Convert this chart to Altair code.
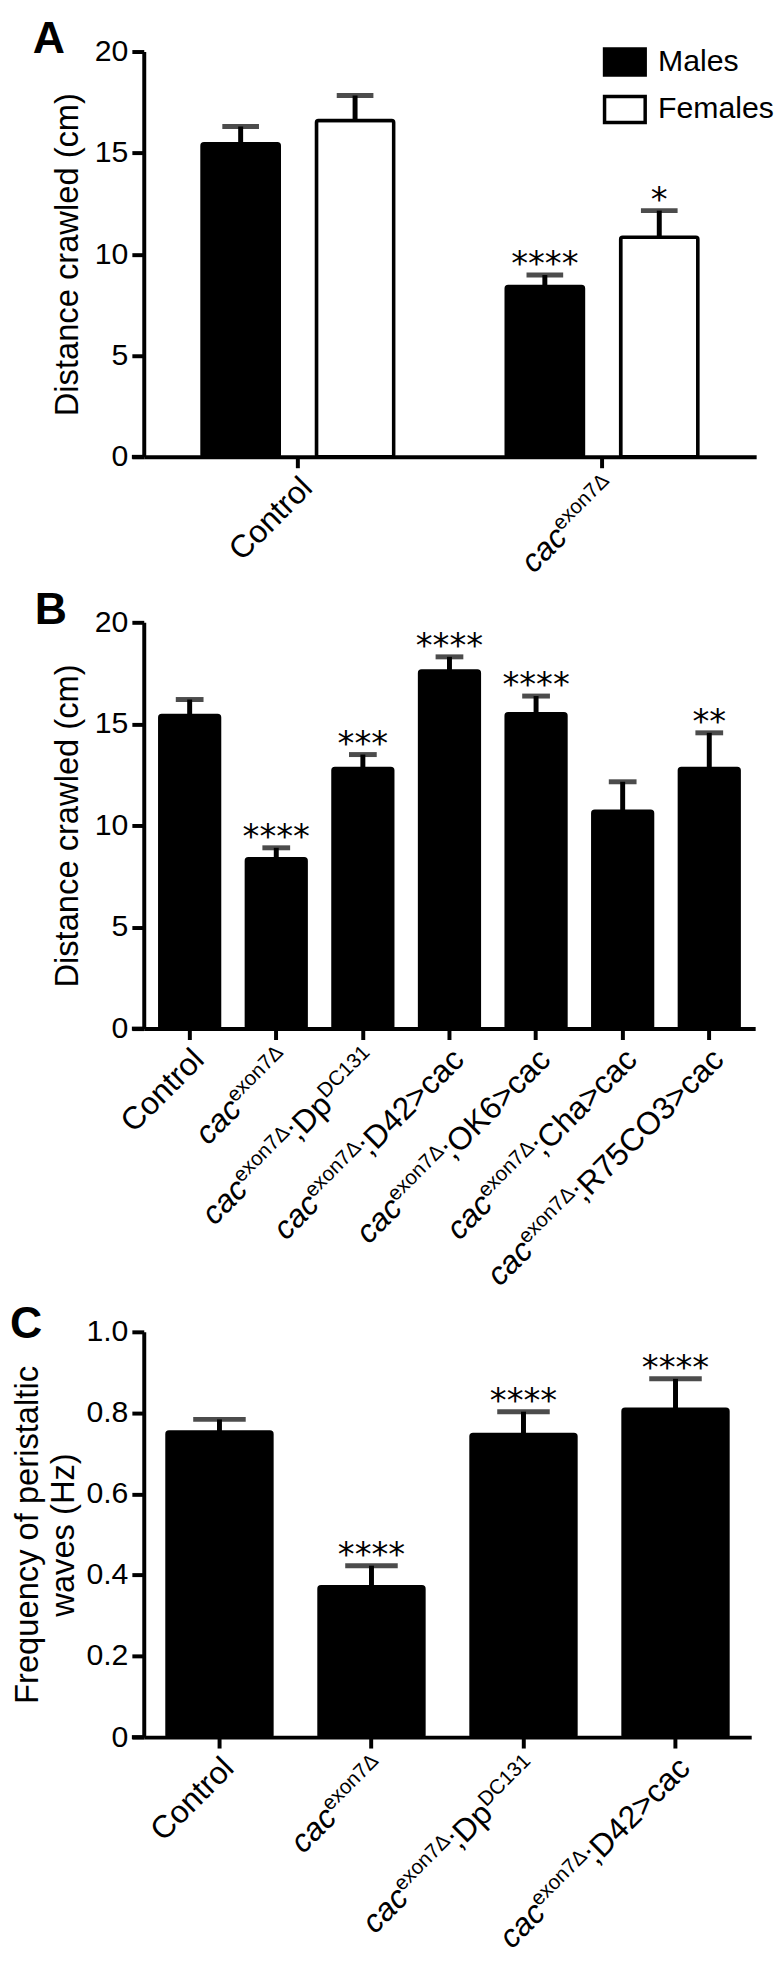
import altair as alt
import pandas as pd

FONT = "Liberation Sans, Arial, Helvetica, sans-serif"
STAR_FONT = "DejaVu Sans"

# ---------------- Panel A ----------------
a_groups = ["Control", "cac"]
a_sexes = ["Males", "Females"]
a_male_mean = [15.45, 8.40]
a_male_sem = [0.85, 0.57]
a_female_mean = [16.6, 10.84]
a_female_sem = [1.23, 1.31]
a_male_stars = ["", "****"]
a_female_stars = ["", "*"]
a_labels = [[("Control", "n")], [("cac", "i"), ("exon7Δ", "s")]]

# ---------------- Panel B ----------------
b_groups = ["Control", "cac", "Dp", "D42", "OK6", "Cha", "R75"]
b_mean = [15.41, 8.36, 12.81, 17.60, 15.50, 10.70, 12.81]
b_sem = [0.79, 0.54, 0.68, 0.70, 0.87, 1.45, 1.75]
b_stars = ["", "****", "***", "****", "****", "", "**"]
b_labels = [
    [("Control", "n")],
    [("cac", "i"), ("exon7Δ", "s")],
    [("cac", "i"), ("exon7Δ", "s"), (";Dp", "n"), ("DC131", "s")],
    [("cac", "i"), ("exon7Δ", "s"), (";D42>cac", "n")],
    [("cac", "i"), ("exon7Δ", "s"), (";OK6>cac", "n")],
    [("cac", "i"), ("exon7Δ", "s"), (";Cha>cac", "n")],
    [("cac", "i"), ("exon7Δ", "s"), (";R75CO3>cac", "n")],
]

# ---------------- Panel C ----------------
c_groups = ["Control", "cac", "Dp", "D42"]
c_mean = [0.753, 0.371, 0.747, 0.809]
c_sem = [0.031, 0.052, 0.056, 0.075]
c_stars = ["", "****", "****", "****"]
c_labels = [
    [("Control", "n")],
    [("cac", "i"), ("exon7Δ", "s")],
    [("cac", "i"), ("exon7Δ", "s"), (";Dp", "n"), ("DC131", "s")],
    [("cac", "i"), ("exon7Δ", "s"), (";D42>cac", "n")],
]

# Arial / Liberation Sans advance widths (em)
W = {'a': .556, 'c': .5, 'e': .556, 'x': .5, 'o': .556, 'n': .556, '7': .556,
     'Δ': .668, ';': .278, 'D': .722, 'p': .556, 'C': .722, '1': .556, '3': .556,
     '4': .556, '2': .556, '>': .584, 'O': .778, 'K': .667, '6': .556, 'h': .556,
     'R': .722, '5': .556, 't': .278, 'r': .333, 'l': .222}

LABEL_F = 32
SUP = 0.65


def label_df(cats, labels):
    rows = []
    for cat, segs in zip(cats, labels):
        acc = 0.0
        for text, kind in reversed(segs):
            size = LABEL_F * SUP if kind == "s" else LABEL_F
            dy = 0.72 * LABEL_F - (0.36 * LABEL_F if kind == "s" else 0)
            rows.append(dict(cat=cat, seg=text, kind=kind, fs=size, ldx=-acc, ldy=dy))
            acc += sum(W.get(ch, 0.556) for ch in text) * size
    return pd.DataFrame(rows)


def label_layers(cats, labels, x_enc, height):
    ldf = label_df(cats, labels)
    base = alt.Chart(ldf).encode(
        x=x_enc,
        y=alt.value(height + 17),
        text="seg:N",
        size=alt.Size("fs:Q", scale=None),
    )
    common = dict(align="right", baseline="alphabetic", angle=315, font=FONT,
                  color="black", dx=alt.ExprRef(expr="datum.ldx"),
                  dy=alt.ExprRef(expr="datum.ldy"))
    it = base.transform_filter("datum.kind == 'i'").mark_text(fontStyle="italic", **common)
    nm = base.transform_filter("datum.kind != 'i'").mark_text(fontStyle="normal", **common)
    return [it, nm]


def letter_layer(letter, lx, ly):
    return alt.Chart(pd.DataFrame({"t": [letter]})).mark_text(
        font=FONT, fontWeight="bold", fontSize=45, align="left",
        baseline="alphabetic", color="black"
    ).encode(text="t:N", x=alt.value(lx), y=alt.value(ly))


def axis_stub(height):
    # short extension of the x-axis line to the left of the y-axis (Prism style)
    return alt.Chart(pd.DataFrame({"k": [0]})).mark_rule(
        color="black", strokeWidth=4
    ).encode(x=alt.value(-12), x2=alt.value(0), y=alt.value(height))


def y_axis(values, title, title_pad, line_h=None, label_expr=None):
    kw = dict(values=values, title=title, titlePadding=title_pad, tickSize=12,
              labelPadding=4)
    if line_h:
        kw["titleLineHeight"] = line_h
    if label_expr:
        kw["labelExpr"] = label_expr
    return alt.Axis(**kw)


x_axis = alt.Axis(title=None, labels=False, tickSize=11)

# ---------------- build A ----------------
A_W, A_H = 618, 409
a_rows = []
for i, g in enumerate(a_groups):
    a_rows.append(dict(cat=g, sex="Males", mean=a_male_mean[i],
                       top=a_male_mean[i] + a_male_sem[i], star=a_male_stars[i]))
    a_rows.append(dict(cat=g, sex="Females", mean=a_female_mean[i],
                       top=a_female_mean[i] + a_female_sem[i], star=a_female_stars[i]))
a_df = pd.DataFrame(a_rows)

a_x = alt.X("cat:N", sort=a_groups, axis=x_axis,
            scale=alt.Scale(paddingInner=0.3, paddingOuter=0.1566))
a_xo = alt.XOffset("sex:N", sort=a_sexes,
                   scale=alt.Scale(paddingInner=0.325, paddingOuter=0.093))
a_yscale = alt.Scale(domain=[0, 20], nice=False)
a_yaxis = y_axis([0, 5, 10, 15, 20], "Distance crawled (cm)", 10)

a_base = alt.Chart(a_df).encode(x=a_x, xOffset=a_xo)
a_bars = a_base.mark_bar(stroke="black", strokeWidth=3.5, cornerRadius=2).encode(
    y=alt.Y("mean:Q", scale=a_yscale, axis=a_yaxis),
    fill=alt.Fill("sex:N", scale=alt.Scale(domain=a_sexes, range=["black", "white"]),
                  legend=alt.Legend(title=None, orient="none", legendX=463, legendY=-12,
                                    symbolType="M-1,-0.64H1V0.64H-1Z", symbolSize=1681,
                                    symbolStrokeColor="black", symbolStrokeWidth=3.5,
                                    labelFont=FONT, labelFontSize=30.5, labelColor="black",
                                    labelOffset=11, rowPadding=5, padding=0)),
)
a_err = a_base.mark_rule(color="black", strokeWidth=5).encode(
    y=alt.Y("mean:Q", scale=a_yscale, axis=a_yaxis), y2="top:Q")
a_cap = a_base.mark_tick(color="black", thickness=5, size=37).encode(
    y=alt.Y("top:Q", scale=a_yscale, axis=a_yaxis))
a_star = a_base.mark_text(font=STAR_FONT, fontSize=34, baseline="alphabetic",
                          dy=0, color="black").encode(
    y=alt.Y("top:Q", scale=a_yscale, axis=a_yaxis), text="star:N")
chart_a = alt.layer(
    a_bars, a_err, a_cap, a_star,
    *label_layers(a_groups, a_labels, a_x, A_H),
    letter_layer("A", -112, 1),
    axis_stub(A_H),
).properties(width=A_W, height=A_H)


# ---------------- generic single-series panel ----------------
def simple_panel(groups, means, sems, stars, labels, W_, H_, pi, po, cap_w,
                 ydomain, yvalues, ytitle, tpad, letter, lxy, line_h=None,
                 label_expr=None):
    df = pd.DataFrame(dict(cat=groups, mean=means,
                           top=[m + s for m, s in zip(means, sems)], star=stars))
    xe = alt.X("cat:N", sort=groups, axis=x_axis,
               scale=alt.Scale(paddingInner=pi, paddingOuter=po))
    ys = alt.Scale(domain=ydomain, nice=False)
    ya = y_axis(yvalues, ytitle, tpad, line_h, label_expr)
    base = alt.Chart(df).encode(x=xe)
    bars = base.mark_bar(color="black", stroke="black", strokeWidth=3.5,
                         cornerRadius=2).encode(y=alt.Y("mean:Q", scale=ys, axis=ya))
    err = base.mark_rule(color="black", strokeWidth=5).encode(
        y=alt.Y("mean:Q", scale=ys, axis=ya), y2="top:Q")
    cap = base.mark_tick(color="black", thickness=5, size=cap_w).encode(
        y=alt.Y("top:Q", scale=ys, axis=ya))
    star = base.mark_text(font=STAR_FONT, fontSize=34, baseline="alphabetic",
                          dy=0, color="black").encode(
        y=alt.Y("top:Q", scale=ys, axis=ya), text="star:N")
    return alt.layer(
        bars, err, cap, star,
        *label_layers(groups, labels, xe, H_),
        letter_layer(letter, *lxy),
        axis_stub(H_),
    ).properties(width=W_, height=H_)


chart_b = simple_panel(b_groups, b_mean, b_sem, b_stars, b_labels, 617, 410,
                       0.31, 0.185, 28, [0, 20], [0, 5, 10, 15, 20],
                       "Distance crawled (cm)", 10, "B", (-110, 2))
chart_c = simple_panel(c_groups, c_mean, c_sem, c_stars, c_labels, 613, 409,
                       0.31, 0.153, 53, [0, 1], [0, 0.2, 0.4, 0.6, 0.8, 1.0],
                       ["Frequency of peristaltic", "waves (Hz)"], 6, "C", (-135, 6),
                       line_h=36,
                       label_expr="datum.value == 0 ? '0' : format(datum.value, '.1f')")

chart = alt.vconcat(chart_a, chart_b, chart_c, spacing=10).properties(
    padding={"left": 2, "top": 0, "right": 0, "bottom": 0}
).configure_view(stroke=None).configure_axis(
    domainColor="black", domainWidth=4, tickColor="black", tickWidth=4,
    labelFont=FONT, labelFontSize=30.5, labelColor="black",
    titleFont=FONT, titleFontSize=33, titleFontWeight="normal", titleColor="black",
    grid=False,
)

chart.save("out.html", embed_options={"renderer": "svg", "actions": False})
